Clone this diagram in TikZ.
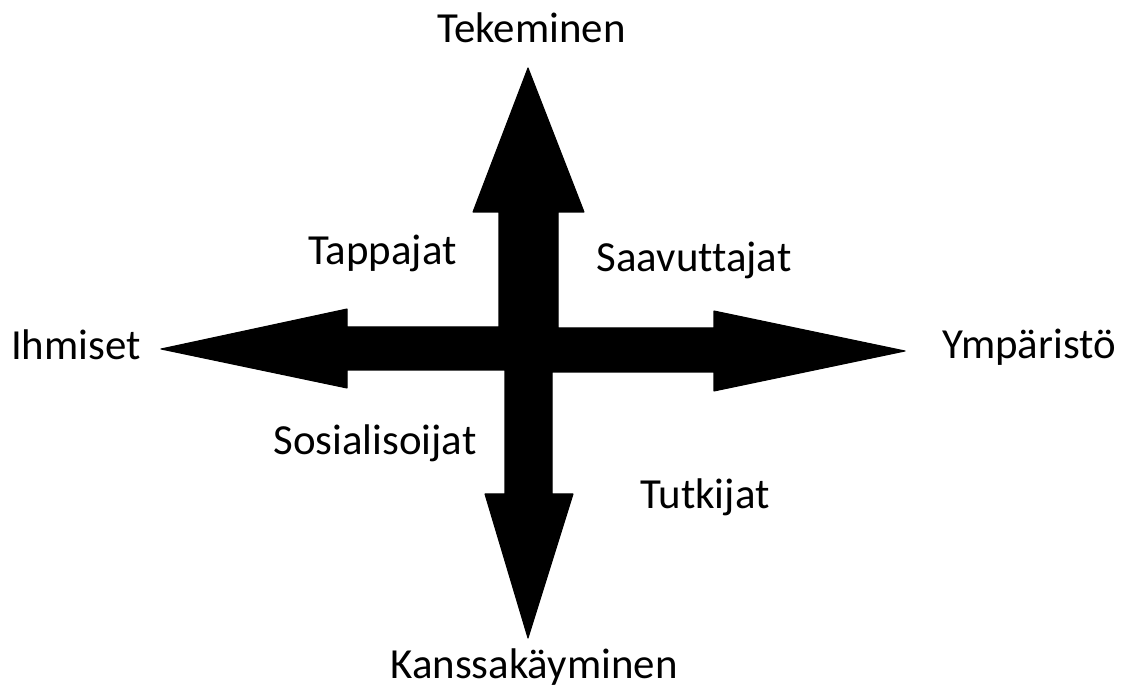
\documentclass[tikz,border=0pt]{standalone}
\usepackage{fontspec}
\setmainfont{Carlito}[Ligatures=CommonOff]
\usepackage{tikz}
\usetikzlibrary{positioning,calc}

\begin{document}
\begin{tikzpicture}[x=0.02cm,y=-0.02cm,font=\fontsize{24.4}{29}\selectfont]
\tikzset{lab/.style={anchor=base,inner sep=0pt,text=black},
  blk/.style={fill=black,draw=black,line width=0.6pt,line join=round}}
\useasboundingbox (0,0) rectangle (1127,689);
% block arrows
\coordinate (up) at (528,68);\coordinate (dn) at (528,638);
\coordinate (lt) at (161,349);\coordinate (rt) at (905,351);
\fill[blk] (up) -- (584,212) -- (558,212) -- (558,328) -- (714,328) -- (714,311) -- (rt)
  -- (714,391) -- (714,372) -- (552,372) -- (552,494) -- (573,494) -- (dn)
  -- (485,494) -- (505,494) -- (505,370) -- (347,370) -- (347,388) -- (lt)
  -- (347,309) -- (347,327) -- (499,327) -- (499,212) -- (473,212) -- cycle;
% axis ends
\node[lab] (tek) at (531.5,43) {Tekeminen};
\node[lab] (ihm) at (76,360) {Ihmiset};
\node[lab] (ymp) at (1029,359) {Ympäristö};
\node[lab] (kan) at (534,678) {Kanssakäyminen};
% quadrants
\node[lab] (tap) at (382.5,265) {Tappajat};
\node[lab] (saa) at (694,272) {Saavuttajat};
\node[lab] (sos) at (375,455) {Sosialisoijat};
\node[lab] (tut) at (705,508) {Tutkijat};
\end{tikzpicture}
\end{document}
